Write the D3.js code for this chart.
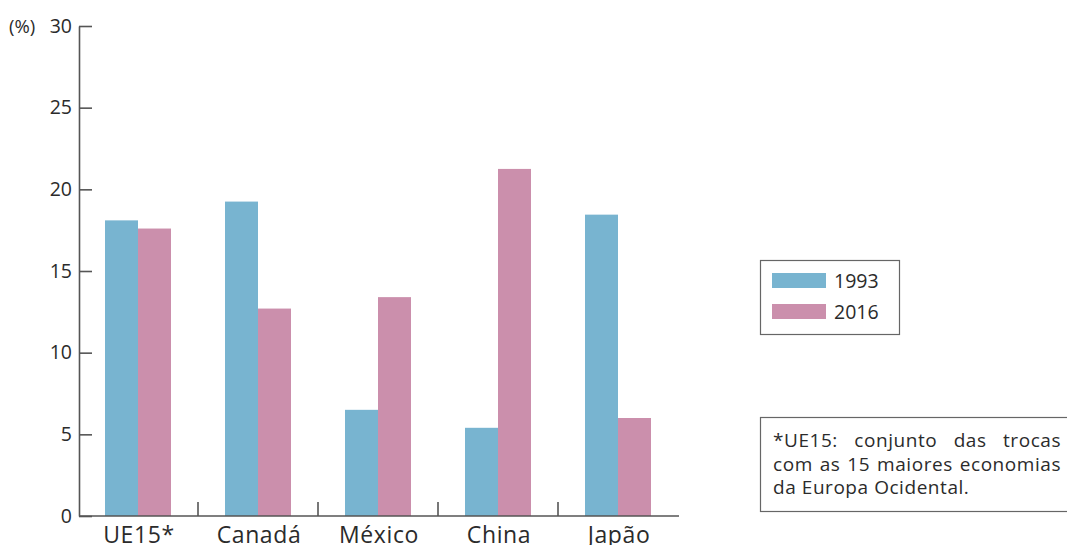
<!DOCTYPE html>
<html>
<head>
<meta charset="utf-8">
<script src="https://cdn.jsdelivr.net/npm/d3@7"></script>
<style>
  body { margin: 0; background: #fff; }
  svg { display: block; font-family: "Open Sans", "Noto Sans", sans-serif; }
</style>
</head>
<body>
<div id="chart"></div>
<script>
// data
var categories = ["UE15*", "Canadá", "México", "China", "Japão"];
var seriesNames = ["1993", "2016"];
var values1993 = [18.1, 19.25, 6.5, 5.4, 18.45];
var values2016 = [17.6, 12.7, 13.4, 21.25, 6.0];
var yTicks = [0, 5, 10, 15, 20, 25, 30];
var colors = ["#78b4d0", "#cb8fac"];
var footnote = ["*UE15: conjunto das trocas", "com as 15 maiores economias", "da Europa Ocidental."];

var W = 1067, H = 545;
var axisColor = "#555", textColor = "#2b2b2b";
var font = "'Open Sans', 'Noto Sans', sans-serif";

var svg = d3.select("#chart").append("svg")
    .attr("width", W)
    .attr("height", H);

// scales
var x = d3.scaleBand().domain(categories).range([79, 679]).padding(0);
var xSub = d3.scaleBand().domain(seriesNames).range([26, 92]).padding(0);
var y = d3.scaleLinear().domain([0, 30]).range([516, 26]);

var rows = categories.map(function(c, i) {
  return { cat: c, vals: [values1993[i], values2016[i]] };
});

// bars
var groups = svg.selectAll("g.cat")
    .data(rows)
  .enter().append("g")
    .attr("class", "cat")
    .attr("transform", function(d) { return "translate(" + x(d.cat) + ",0)"; });

groups.selectAll("rect")
    .data(function(d) { return d.vals.map(function(v, j) { return { s: seriesNames[j], v: v, j: j }; }); })
  .enter().append("rect")
    .attr("x", function(d) { return xSub(d.s); })
    .attr("width", xSub.bandwidth())
    .attr("y", function(d) { return y(d.v); })
    .attr("height", function(d) { return y(0) - y(d.v); })
    .attr("fill", function(d) { return colors[d.j]; });

// y axis, ticks pointing right
var yAxis = svg.append("g")
    .attr("transform", "translate(79,0)")
    .call(d3.axisLeft(y).tickValues(yTicks).tickSizeInner(-13).tickSizeOuter(0).tickPadding(7));
yAxis.select(".domain").attr("stroke", axisColor).attr("stroke-width", 1.6);
yAxis.selectAll(".tick line").attr("stroke", axisColor).attr("stroke-width", 1.6);
yAxis.selectAll(".tick text")
    .attr("fill", textColor)
    .style("font-size", "19.5px")
    .style("font-family", font);

svg.append("text")
    .attr("x", 9)
    .attr("y", 33)
    .attr("fill", textColor)
    .style("font-size", "18.5px")
    .text("(%)");

// x axis baseline
svg.append("line")
    .attr("x1", x.range()[0]).attr("x2", x.range()[1])
    .attr("y1", y(0)).attr("y2", y(0))
    .attr("stroke", axisColor).attr("stroke-width", 1.6);

// separators between categories
svg.selectAll("line.sep")
    .data(categories.slice(1))
  .enter().append("line")
    .attr("class", "sep")
    .attr("x1", function(d) { return x(d) - 1; })
    .attr("x2", function(d) { return x(d) - 1; })
    .attr("y1", y(0))
    .attr("y2", y(0) - 14)
    .attr("stroke", axisColor).attr("stroke-width", 1.6);

// category labels
svg.selectAll("text.cat")
    .data(categories)
  .enter().append("text")
    .attr("class", "cat")
    .attr("x", function(d) { return x(d) + x.bandwidth() / 2; })
    .attr("y", 543)
    .attr("text-anchor", "middle")
    .attr("fill", textColor)
    .style("font-size", "23px")
    .style("letter-spacing", "0.6px")
    .text(function(d) { return d; });

// legend
var legend = svg.append("g");
legend.append("rect")
    .attr("x", 760.5).attr("y", 260.5).attr("width", 139).attr("height", 74)
    .attr("fill", "none").attr("stroke", "#666").attr("stroke-width", 1.2);
seriesNames.forEach(function(s, i) {
  legend.append("rect")
      .attr("x", 772).attr("y", 273 + i * 31)
      .attr("width", 54).attr("height", 15)
      .attr("fill", colors[i]);
  legend.append("text")
      .attr("x", 834).attr("y", 288 + i * 31)
      .attr("fill", textColor)
      .style("font-size", "19.5px")
      .text(s);
});

// footnote box, justified text
var note = svg.append("g");
note.append("rect")
    .attr("x", 760.5).attr("y", 417.5).attr("width", 320).attr("height", 94)
    .attr("fill", "none").attr("stroke", "#666").attr("stroke-width", 1.2);
var left = 773, right = 1061;
function noteText(str, yy) {
  return note.append("text").attr("y", yy)
      .attr("fill", textColor)
      .style("font-size", "19px")
      .style("letter-spacing", "0.55px")
      .text(str);
}
footnote.forEach(function(line, i) {
  var yy = 447 + i * 23.5;
  if (i === footnote.length - 1) {
    noteText(line, yy).attr("x", left);
    return;
  }
  var words = line.split(" ");
  var nodes = words.map(function(w) { return noteText(w, yy); });
  var widths = nodes.map(function(n) { return n.node().getComputedTextLength(); });
  var gap = (right - left - d3.sum(widths)) / (words.length - 1);
  var pos = left;
  nodes.forEach(function(n, k) {
    n.attr("x", pos);
    pos += widths[k] + gap;
  });
});
</script>
</body>
</html>
